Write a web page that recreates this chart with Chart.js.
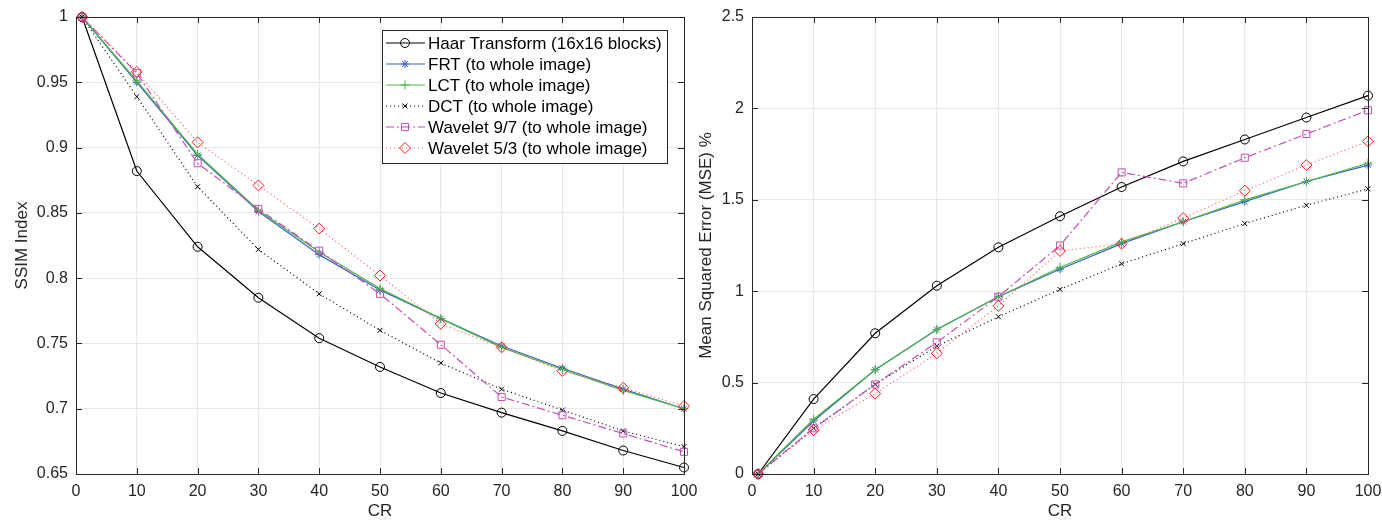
<!DOCTYPE html>
<html>
<head>
<meta charset="utf-8">
<script src="https://cdn.jsdelivr.net/npm/chart.js@4"></script>
<style>
  body { margin: 0; background: #fff; }
  #wrap { position: relative; width: 1382px; height: 522px; }
  .panel { position: absolute; top: 0; height: 522px; }
  #left { left: 0; width: 700px; }
  #right { left: 690px; width: 692px; }
</style>
</head>
<body>
<div id="wrap">
  <div class="panel" id="left"><canvas id="ssimChart"></canvas></div>
  <div class="panel" id="right"><canvas id="mseChart"></canvas></div>
</div>
<script>
const cr = [1, 10, 20, 30, 40, 50, 60, 70, 80, 90, 100];
const seriesNames = [
  'Haar Transform (16x16 blocks)',
  'FRT (to whole image)',
  'LCT (to whole image)',
  'DCT (to whole image)',
  'Wavelet 9/7 (to whole image)',
  'Wavelet 5/3 (to whole image)'
];

// SSIM index
const ssimHaar = [1, 0.882, 0.824, 0.785, 0.754, 0.732, 0.712, 0.697, 0.683, 0.668, 0.655];
const ssimFrt  = [1, 0.950, 0.894, 0.851, 0.818, 0.791, 0.769, 0.748, 0.731, 0.715, 0.700];
const ssimLct  = [1, 0.951, 0.895, 0.852, 0.820, 0.792, 0.769, 0.747, 0.730, 0.714, 0.700];
const ssimDct  = [1, 0.939, 0.870, 0.822, 0.788, 0.760, 0.735, 0.715, 0.699, 0.683, 0.671];
const ssimW97  = [1, 0.957, 0.888, 0.853, 0.821, 0.788, 0.749, 0.709, 0.695, 0.681, 0.667];
const ssimW53  = [1, 0.958, 0.904, 0.871, 0.838, 0.802, 0.765, 0.747, 0.729, 0.716, 0.702];

// MSE %
const mseHaar = [0, 0.41, 0.77, 1.03, 1.24, 1.41, 1.57, 1.71, 1.83, 1.95, 2.07];
const mseFrt  = [0, 0.29, 0.57, 0.79, 0.97, 1.12, 1.26, 1.38, 1.49, 1.60, 1.69];
const mseLct  = [0, 0.30, 0.57, 0.79, 0.97, 1.13, 1.27, 1.38, 1.50, 1.60, 1.70];
const mseDct  = [0, 0.25, 0.49, 0.70, 0.86, 1.01, 1.15, 1.26, 1.37, 1.47, 1.56];
const mseW97  = [0, 0.25, 0.49, 0.72, 0.97, 1.25, 1.65, 1.59, 1.73, 1.86, 1.99];
const mseW53  = [0, 0.24, 0.44, 0.66, 0.92, 1.22, 1.26, 1.40, 1.55, 1.69, 1.82];

const FONT = 'Liberation Sans, Arial, Helvetica, sans-serif';
const AXIS = '#262626';

// line style per series: colour, dash, marker, marker radius
const styles = [
  { color: '#000000', line: '#000000', dash: [], point: 'circle', r: 4.5 },
  { color: '#3b62c2', line: '#3b62c2', dash: [], point: 'star', r: 4 },
  { color: '#4db847', line: '#4db847', dash: [], point: 'cross', r: 4.5 },
  { color: '#000000', line: '#000000', dash: [1, 3], point: 'crossRot', r: 3.5 },
  { color: '#c050b4', line: '#c050b4', dash: [8, 3, 2, 3], point: 'rect', r: 5 },
  { color: '#ff1a1a', line: '#ff5555', dash: [1, 3], point: 'rectRot', r: 5.5 }
];

function buildSets(arrays) {
  return arrays.map((vals, i) => ({
    label: seriesNames[i],
    data: cr.map((x, j) => ({ x: x, y: vals[j] })),
    borderColor: styles[i].line,
    borderWidth: 1.2,
    borderDash: styles[i].dash,
    pointStyle: styles[i].point,
    pointRadius: styles[i].r,
    pointBorderColor: styles[i].color,
    pointBackgroundColor: 'rgba(0,0,0,0)',
    pointBorderWidth: 1,
    tension: 0,
    fill: false,
    clip: false,
    order: 6 - i
  }));
}

// MATLAB-like box with inward ticks
const boxPlugin = {
  id: 'box',
  afterDatasetsDraw(chart) {
    const { ctx, chartArea: a, scales } = chart;
    ctx.save();
    ctx.strokeStyle = AXIS;
    ctx.lineWidth = 1;
    ctx.setLineDash([]);
    ctx.strokeRect(a.left + 0.5, a.top + 0.5, a.right - a.left, a.bottom - a.top);
    ctx.beginPath();
    scales.x.ticks.forEach((t, i) => {
      const px = Math.round(scales.x.getPixelForTick(i)) + 0.5;
      ctx.moveTo(px, a.bottom); ctx.lineTo(px, a.bottom - 6);
      ctx.moveTo(px, a.top); ctx.lineTo(px, a.top + 6);
    });
    scales.y.ticks.forEach((t, i) => {
      const py = Math.round(scales.y.getPixelForTick(i)) + 0.5;
      ctx.moveTo(a.left, py); ctx.lineTo(a.left + 6, py);
      ctx.moveTo(a.right, py); ctx.lineTo(a.right - 6, py);
    });
    ctx.stroke();
    ctx.restore();
  }
};

// legend inside the plot, line + marker samples
const insideLegend = {
  id: 'insideLegend',
  afterDraw(chart, args, opts) {
    if (!opts.show) return;
    const { ctx, chartArea: a } = chart;
    const w = 285, rowH = 21;
    const x0 = a.right - 17 - w, y0 = a.top + 13;
    const h = rowH * chart.data.datasets.length + 7;
    ctx.save();
    ctx.fillStyle = '#fff';
    ctx.fillRect(x0, y0, w, h);
    ctx.strokeStyle = AXIS;
    ctx.lineWidth = 1;
    ctx.strokeRect(x0 + 0.5, y0 + 0.5, w, h);
    ctx.font = '17px ' + FONT;
    ctx.textBaseline = 'middle';
    chart.data.datasets.forEach((ds, i) => {
      const cy = y0 + 13 + i * rowH;
      ctx.strokeStyle = ds.borderColor;
      ctx.lineWidth = 1.2;
      ctx.setLineDash(ds.borderDash);
      ctx.beginPath();
      ctx.moveTo(x0 + 4, cy); ctx.lineTo(x0 + 43, cy);
      ctx.stroke();
      ctx.setLineDash([]);
      ctx.strokeStyle = ds.pointBorderColor;
      ctx.fillStyle = 'rgba(0,0,0,0)';
      ctx.lineWidth = 1;
      Chart.helpers.drawPoint(ctx, { pointStyle: ds.pointStyle, radius: ds.pointRadius, rotation: 0, borderWidth: 1 }, x0 + 23, cy);
      ctx.fillStyle = '#000';
      ctx.fillText(ds.label, x0 + 46, cy + 1);
    });
    ctx.restore();
  }
};

const trimZeros = v => String(Number(v.toFixed(2)));

function makeOptions(yMin, yMax, yStep, yTitle, yWidth, padLeft, padRight, showLegend) {
  return {
    responsive: true,
    maintainAspectRatio: false,
    animation: false,
    events: [],
    layout: { padding: { left: padLeft, right: padRight, top: 17, bottom: 0 } },
    plugins: {
      legend: { display: false },
      tooltip: { enabled: false },
      insideLegend: { show: showLegend }
    },
    scales: {
      x: {
        type: 'linear',
        min: 0, max: 100,
        ticks: { stepSize: 10, color: AXIS, font: { size: 16, family: FONT }, padding: 8, maxRotation: 0 },
        grid: { color: '#e8e8e8', drawTicks: false },
        border: { display: false },
        title: { display: true, text: 'CR', color: AXIS, font: { size: 17, family: FONT }, padding: { top: 6, bottom: 0 } },
        afterFit(scale) {
          scale.height = 48;
          scale.paddingLeft = 0;
          scale.paddingRight = 0;
        }
      },
      y: {
        min: yMin, max: yMax,
        ticks: { stepSize: yStep, color: AXIS, font: { size: 16, family: FONT }, padding: 8, callback: trimZeros },
        grid: { color: '#e8e8e8', drawTicks: false },
        border: { display: false },
        title: { display: true, text: yTitle, color: AXIS, font: { size: 17, family: FONT }, padding: { top: 0, bottom: 4 } },
        afterFit(scale) {
          scale.width = yWidth;
          scale.paddingTop = 0;
          scale.paddingBottom = 0;
        }
      }
    }
  };
}

new Chart(document.getElementById('ssimChart'), {
  type: 'line',
  data: { datasets: buildSets([ssimHaar, ssimFrt, ssimLct, ssimDct, ssimW97, ssimW53]) },
  options: makeOptions(0.65, 1, 0.05, 'SSIM Index', 64, 12, 16, true),
  plugins: [boxPlugin, insideLegend]
});

new Chart(document.getElementById('mseChart'), {
  type: 'line',
  data: { datasets: buildSets([mseHaar, mseFrt, mseLct, mseDct, mseW97, mseW53]) },
  options: makeOptions(0, 2.5, 0.5, 'Mean Squared Error (MSE) %', 56, 6, 14, false),
  plugins: [boxPlugin, insideLegend]
});
</script>
</body>
</html>
